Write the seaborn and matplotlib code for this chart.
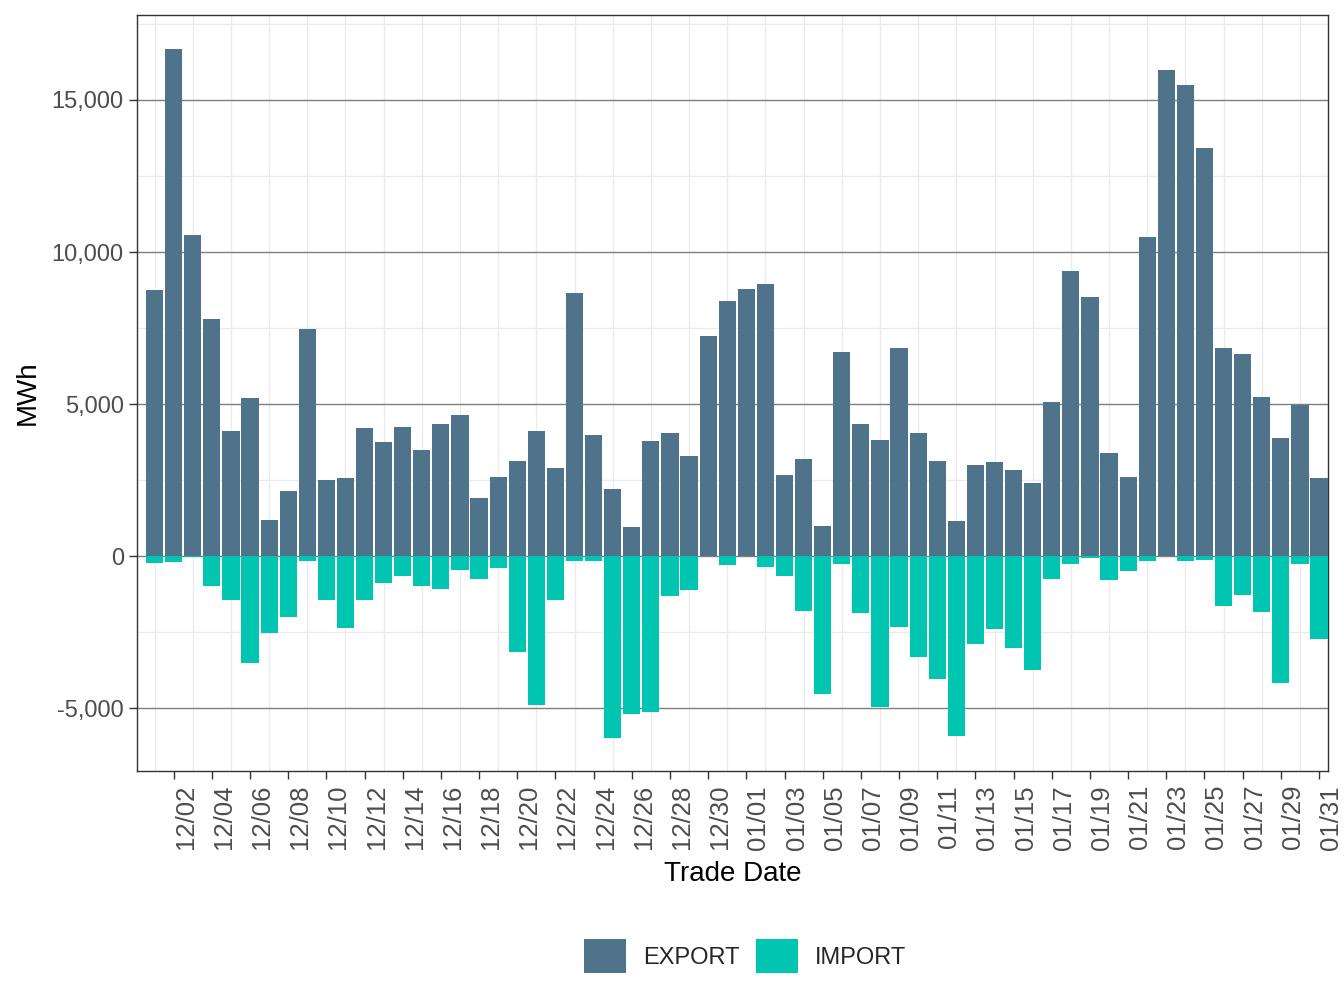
import matplotlib
matplotlib.use("Agg")
import matplotlib.pyplot as plt
from matplotlib.patches import Patch
from matplotlib.ticker import FuncFormatter, MultipleLocator, FixedLocator
import seaborn as sns
import pandas as pd

# ---- data ----
trade_dates = pd.date_range("2023-12-01", "2024-01-31", freq="D")
export_mwh = [8750, 16680, 10560, 7800, 4110, 5200, 1180, 2140, 7470, 2500,
              2570, 4210, 3750, 4240, 3490, 4340, 4640, 1910, 2600, 3125,
              4110, 2900, 8650, 3980, 2200, 950, 3780, 4050, 3290, 7240,
              8390, 8780, 8950, 2660, 3190, 990, 6710, 4340, 3820, 6840,
              4050, 3125, 1150, 2990, 3090, 2830, 2400, 5070, 9380, 8520,
              3390, 2600, 10490, 15990, 15490, 13420, 6840, 6650, 5230, 3880,
              4970, 2570]
import_mwh = [-220, -190, -20, -980, -1440, -3510, -2520, -2000, -150, -1440,
              -2360, -1440, -880, -650, -980, -1080, -450, -750, -380, -3150,
              -4890, -1440, -150, -150, -5980, -5190, -5120, -1300, -1110, -10,
              -290, -10, -350, -650, -1800, -4530, -250, -1860, -4960, -2330,
              -3310, -4040, -5910, -2880, -2390, -3020, -3740, -750, -250, -55,
              -780, -480, -150, -10, -150, -120, -1630, -1270, -1830, -4170,
              -250, -2720]
series_names = ["EXPORT", "IMPORT"]
series_colors = ["#4E738A", "#00C6B1"]

day_index = list(range(1, len(trade_dates) + 1))
tick_labels = [d.strftime("%m/%d") for d in trade_dates]

df = pd.concat([
    pd.DataFrame({"day": day_index, "type": series_names[0], "value": export_mwh}),
    pd.DataFrame({"day": day_index, "type": series_names[1], "value": import_mwh}),
], ignore_index=True)

# ---- plot ----
sns.set_style("white")
plt.rcParams["font.family"] = ["Liberation Sans", "DejaVu Sans"]

fig = plt.figure(figsize=(13.44, 10.08), dpi=100)
ax = fig.add_axes([137 / 1344, 1 - 771 / 1008, (1328 - 137) / 1344, (771 - 15) / 1008])

sns.barplot(data=df, x="day", y="value", hue="type", dodge=False, native_scale=True,
            width=0.9, palette=dict(zip(series_names, series_colors)),
            saturation=1, linewidth=0, ax=ax, legend=False, zorder=3)

ax.set_xlim(0.08, 62.47)
ax.set_ylim(-7072, 17796)

# grid
ax.set_axisbelow(True)
ax.yaxis.set_major_locator(MultipleLocator(5000))
ax.yaxis.set_minor_locator(MultipleLocator(2500))
ax.xaxis.set_minor_locator(FixedLocator([d for d in day_index if d % 2 == 1]))
ax.grid(which="minor", axis="both", color="#EBEBEB", linewidth=1.0, zorder=0)
ax.grid(which="major", axis="y", color="#7F7F7F", linewidth=1.0, zorder=1)
ax.grid(which="major", axis="x", visible=False)

ax.yaxis.set_major_formatter(FuncFormatter(lambda v, p: f"{int(v):,}"))

even_days = [d for d in day_index if d % 2 == 0]
ax.set_xticks(even_days)
ax.set_xticklabels([tick_labels[d - 1] for d in even_days], rotation=90,
                   ha="left", va="top")

ax.tick_params(axis="both", which="major", length=6, width=1.0, color="#333333",
               labelcolor="#4D4D4D", bottom=True, left=True)
ax.tick_params(axis="y", which="major", labelsize=17)
ax.tick_params(axis="x", which="major", labelsize=18.5, pad=4)
ax.tick_params(axis="both", which="minor", length=0)

for s in ax.spines.values():
    s.set_color("#333333")
    s.set_linewidth(1.0)
    s.set_visible(True)

ax.set_xlabel("Trade Date", fontsize=20, color="black", labelpad=8)
ax.set_ylabel("MWh", fontsize=20, color="black", labelpad=8)

handles = [Patch(facecolor=c, edgecolor="none") for c in series_colors]
fig.legend(handles, series_names, loc="center", bbox_to_anchor=(745 / 1344, 1 - 956 / 1008),
           ncol=2, frameon=False, fontsize=17, handlelength=1.8, handleheight=1.8,
           handletextpad=0.7, columnspacing=0.7)

fig.savefig("out.png", dpi=100)
